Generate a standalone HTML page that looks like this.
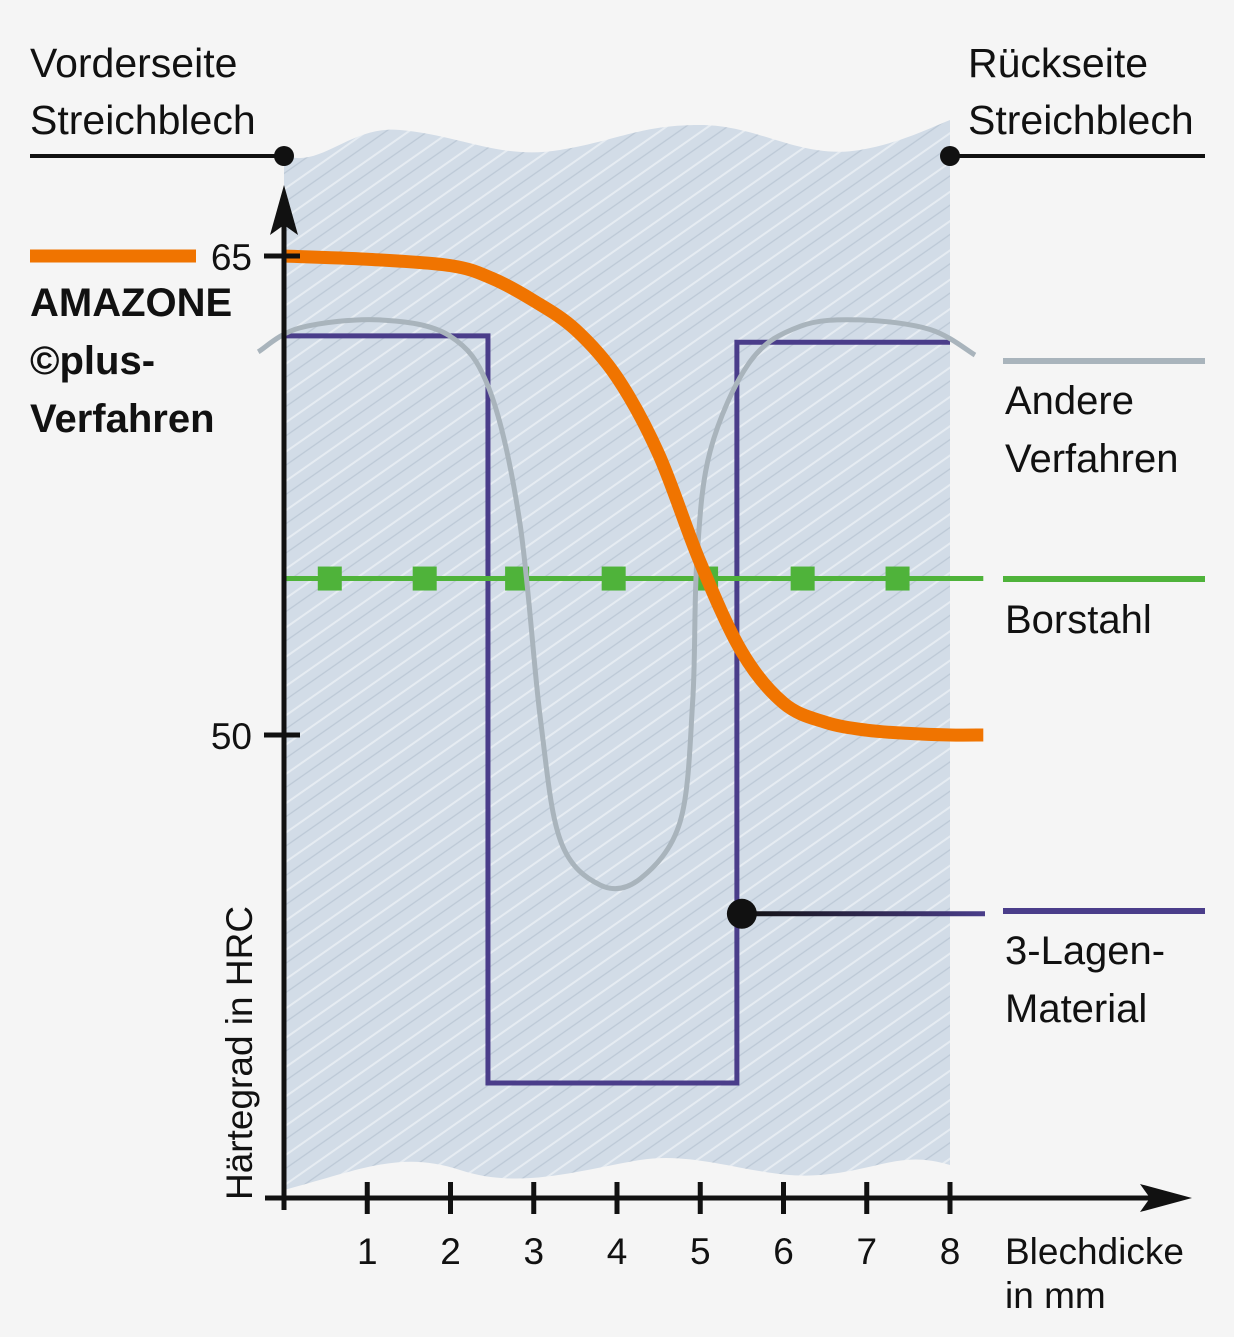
<!DOCTYPE html>
<html><head><meta charset="utf-8"><style>
body{margin:0;background:#f5f5f5;}
svg{display:block;font-family:"Liberation Sans","DejaVu Sans",sans-serif;}
</style></head><body>
<svg id="c" width="1234" height="1337" viewBox="0 0 1234 1337">
<defs>
<pattern id="hatch" width="24" height="24" patternUnits="userSpaceOnUse" patternTransform="rotate(-35)">
<rect width="24" height="24" fill="#d2dce7"/>
<line x1="0" y1="6" x2="24" y2="6" stroke="#e6ecf2" stroke-width="2"/>
<line x1="0" y1="17" x2="24" y2="17" stroke="#bcc8d6" stroke-width="1.2"/>
</pattern>
<linearGradient id="lg" gradientUnits="userSpaceOnUse" x1="742" y1="0" x2="985" y2="0"><stop offset="0" stop-color="#111"/><stop offset="1" stop-color="#4a3d8a"/></linearGradient>
</defs>
<path d="M284,155 C320,170 350,125 400,130 C460,135 500,160 560,150 C620,140 640,125 700,125 C760,125 800,160 860,150 C900,143 930,128 950,120 L950,1165 C900,1150 880,1170 820,1175 C760,1180 700,1150 640,1160 C580,1170 520,1190 460,1170 C400,1150 360,1170 284,1190 Z" fill="url(#hatch)"/>
<g id="plot"></g>
<g font-size="41" fill="#111">
<text x="30" y="77">Vorderseite</text>
<text x="30" y="134">Streichblech</text>
<text x="968" y="77">Rückseite</text>
<text x="968" y="134">Streichblech</text>
</g>
<line x1="30" y1="156" x2="284" y2="156" stroke="#111" stroke-width="4"/>
<line x1="950" y1="156" x2="1205" y2="156" stroke="#111" stroke-width="4"/>
<circle cx="284" cy="156" r="10" fill="#111"/><circle cx="950" cy="156" r="10" fill="#111"/>
<g font-size="40" fill="#111">
<line x1="30" y1="256" x2="196" y2="256" stroke="#f07400" stroke-width="13"/>
<text x="30" y="316" font-weight="bold">AMAZONE</text>
<text x="30" y="374" font-weight="bold">©plus-</text>
<text x="30" y="432" font-weight="bold">Verfahren</text>
<line x1="1003" y1="361" x2="1205" y2="361" stroke="#a9b4bc" stroke-width="6"/>
<text x="1005" y="414">Andere</text>
<text x="1005" y="472">Verfahren</text>
<line x1="1003" y1="579" x2="1205" y2="579" stroke="#4fb33a" stroke-width="6"/>
<text x="1005" y="633">Borstahl</text>
<line x1="1003" y1="911" x2="1205" y2="911" stroke="#4a3d8a" stroke-width="6"/>
<text x="1005" y="964">3-Lagen-</text>
<text x="1005" y="1022">Material</text>
<text x="1005" y="1264" font-size="37">Blechdicke</text>
<text x="1005" y="1308" font-size="37">in mm</text>
<text transform="translate(252,1200) rotate(-90)" font-size="37">Härtegrad in HRC</text>
</g>
</svg>
<script>
const xTicks=[1,2,3,4,5,6,7,8];
const yTicks=[65,50];
const orangeX=[0,1,2,2.5,3,3.5,4,4.5,5,5.5,6,6.5,7,7.5,8,8.4];
const orangeY=[65,64.9,64.7,64.3,63.6,62.7,61.2,58.8,55.4,52.6,51.0,50.4,50.15,50.05,50,50];
const grayX=[-0.31,0.19,1.15,1.99,2.47,2.83,3.08,3.32,3.80,4.28,4.76,4.91,4.96,5.12,5.60,6.20,6.92,7.76,8.30];
const grayY=[62.0,62.75,63.0,62.5,60.8,56.7,50.5,46.7,45.3,45.5,47.3,51.1,55.5,58.9,61.7,62.8,63.0,62.7,61.9];
const layerX=[0,2.45,2.45,5.44,5.44,8];
const layerY=[62.5,62.5,39.1,39.1,62.3,62.3];
const borY=54.9;
const borMarkX=[0.55,1.69,2.8,3.96,5.07,6.23,7.37];
const dotX=5.5, dotY=44.4;
const sx=v=>284+v*83.25, sy=v=>735-(v-50)*31.93;
const NS='http://www.w3.org/2000/svg', g=document.getElementById('plot');
function mk(t,a){const e=document.createElementNS(NS,t);for(const k in a)e.setAttribute(k,a[k]);g.appendChild(e);return e;}
function smooth(X,Y){const p=X.map((x,i)=>[sx(x),sy(Y[i])]);let d='M'+p[0];for(let i=0;i<p.length-1;i++){const p0=p[i-1]||p[i],p1=p[i],p2=p[i+1],p3=p[i+2]||p2;d+=' C'+(p1[0]+(p2[0]-p0[0])/6)+','+(p1[1]+(p2[1]-p0[1])/6)+' '+(p2[0]-(p3[0]-p1[0])/6)+','+(p2[1]-(p3[1]-p1[1])/6)+' '+p2;}return d;}
let e;
e=mk('polyline',{points:layerX.map((x,i)=>sx(x)+','+sy(layerY[i])).join(' '),fill:'none',stroke:'#4a3d8a','stroke-width':5});


e=mk('line',{x1:sx(0),x2:sx(8.4),y1:sy(borY),y2:sy(borY),stroke:'#4fb33a','stroke-width':5});


borMarkX.forEach(x=>{e=mk('rect',{x:sx(x)-12,y:sy(borY)-12,width:24,height:24,fill:'#4fb33a'});

});
e=mk('path',{d:smooth(grayX,grayY),fill:'none',stroke:'#a9b4bc','stroke-width':5});


e=mk('path',{d:smooth(orangeX,orangeY),fill:'none',stroke:'#f07400','stroke-width':13});


e=mk('line',{x1:sx(dotX),y1:sy(dotY),x2:985,y2:sy(dotY),stroke:'url(#lg)','stroke-width':5});


mk('circle',{cx:sx(dotX),cy:sy(dotY),r:15,fill:'#111'});
e=mk('path',{d:'M284,1210 L284,195 M265,1198 L1150,1198',stroke:'#111','stroke-width':5,fill:'none'});


mk('path',{d:'M284,185 L270,235 L284,225 L298,235 Z',fill:'#111'});
mk('path',{d:'M1192,1198 L1140,1184 L1150,1198 L1140,1212 Z',fill:'#111'});
xTicks.forEach(t=>{mk('line',{x1:sx(t),x2:sx(t),y1:1182,y2:1214,stroke:'#111','stroke-width':5});
e=mk('text',{x:sx(t),y:1264,'font-size':37,'text-anchor':'middle',fill:'#111'});e.textContent=t;

});
yTicks.forEach(t=>{mk('line',{x1:264,x2:300,y1:sy(t),y2:sy(t),stroke:'#111','stroke-width':5});
e=mk('text',{x:252,y:sy(t)+14,'font-size':37,'text-anchor':'end',fill:'#111'});e.textContent=t;

});
</script>
</body></html>
